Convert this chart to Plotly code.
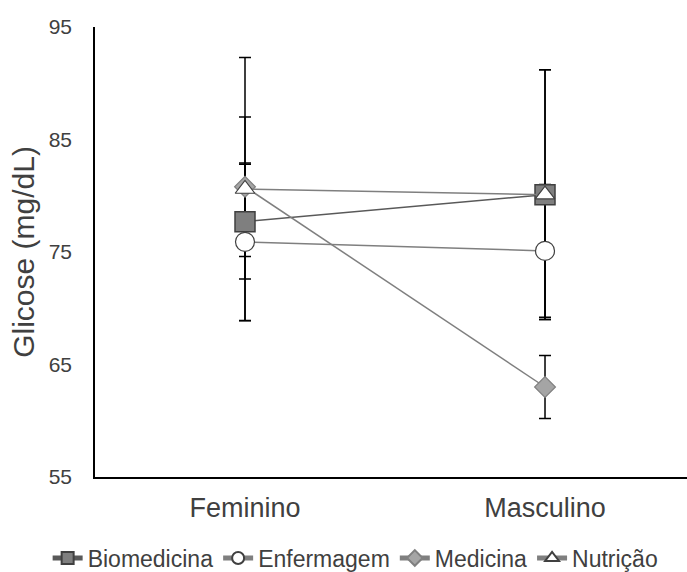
import plotly.graph_objects as go

categories = ["Feminino", "Masculino"]
series_names = ["Biomedicina", "Enfermagem", "Medicina", "Nutrição"]

biomedicina = [77.7, 80.1]
biomedicina_sd = [5.1, 11.1]
enfermagem = [75.9, 75.1]
enfermagem_sd = [7.0, 5.9]
medicina = [80.8, 63.0]
medicina_sd = [6.2, 2.8]
nutricao = [80.6, 80.1]
nutricao_sd = [11.7, 11.1]

y_ticks = [55, 65, 75, 85, 95]

values = [biomedicina, enfermagem, medicina, nutricao]
sds = [biomedicina_sd, enfermagem_sd, medicina_sd, nutricao_sd]

styles = [
    dict(symbol="square", size=20, color="#7f7f7f", line=dict(color="#404040", width=1.5)),
    dict(symbol="circle", size=19, color="#ffffff", line=dict(color="#404040", width=1.2)),
    dict(symbol="diamond", size=16, color="#a5a5a5", line=dict(color="#808080", width=1.2)),
    dict(symbol="triangle-up", size=17, color="#ffffff", line=dict(color="#404040", width=1.2)),
]
line_colors = ["#595959", "#7f7f7f", "#7f7f7f", "#7f7f7f"]

fig = go.Figure()

# error bars first so that all markers sit on top
for name, v, sd in zip(series_names, values, sds):
    fig.add_trace(go.Scatter(
        x=categories, y=v, mode="markers",
        marker=dict(size=1, color="rgba(0,0,0,0)"),
        error_y=dict(type="data", array=sd, visible=True, color="#000000",
                     thickness=1.5, width=6),
        showlegend=False, hoverinfo="skip",
    ))

for name, v, st, lc in zip(series_names, values, styles, line_colors):
    fig.add_trace(go.Scatter(
        x=categories, y=v, mode="lines+markers", name=name,
        line=dict(color=lc, width=1.5),
        marker=st,
    ))

fig.update_layout(
    width=687, height=572,
    margin=dict(l=95, r=0, t=27, b=95, autoexpand=False),
    paper_bgcolor="white", plot_bgcolor="white",
    font=dict(family="Liberation Sans, Arial, sans-serif", color="#404040"),
    showlegend=True,
    legend=dict(orientation="h", x=-0.08, xanchor="left", y=-0.18, yanchor="middle",
                font=dict(size=23, color="#404040"), itemsizing="constant",
                bgcolor="rgba(0,0,0,0)", tracegroupgap=0),
)
fig.update_xaxes(
    type="category", range=[-0.5, 1.4733],
    showline=True, linecolor="#000000", linewidth=1.5,
    showgrid=False, zeroline=False, ticks="",
    tickfont=dict(size=27, color="#404040"), ticklabelstandoff=6,
)
fig.update_yaxes(
    range=[55, 95], tickvals=y_ticks,
    showline=True, linecolor="#000000", linewidth=1.5,
    showgrid=False, zeroline=False, ticks="",
    tickfont=dict(size=21, color="#404040"), ticklabelstandoff=17,
    title=dict(text="Glicose (mg/dL)", font=dict(size=30, color="#404040"), standoff=5),
)

fig.write_html("out.html")
